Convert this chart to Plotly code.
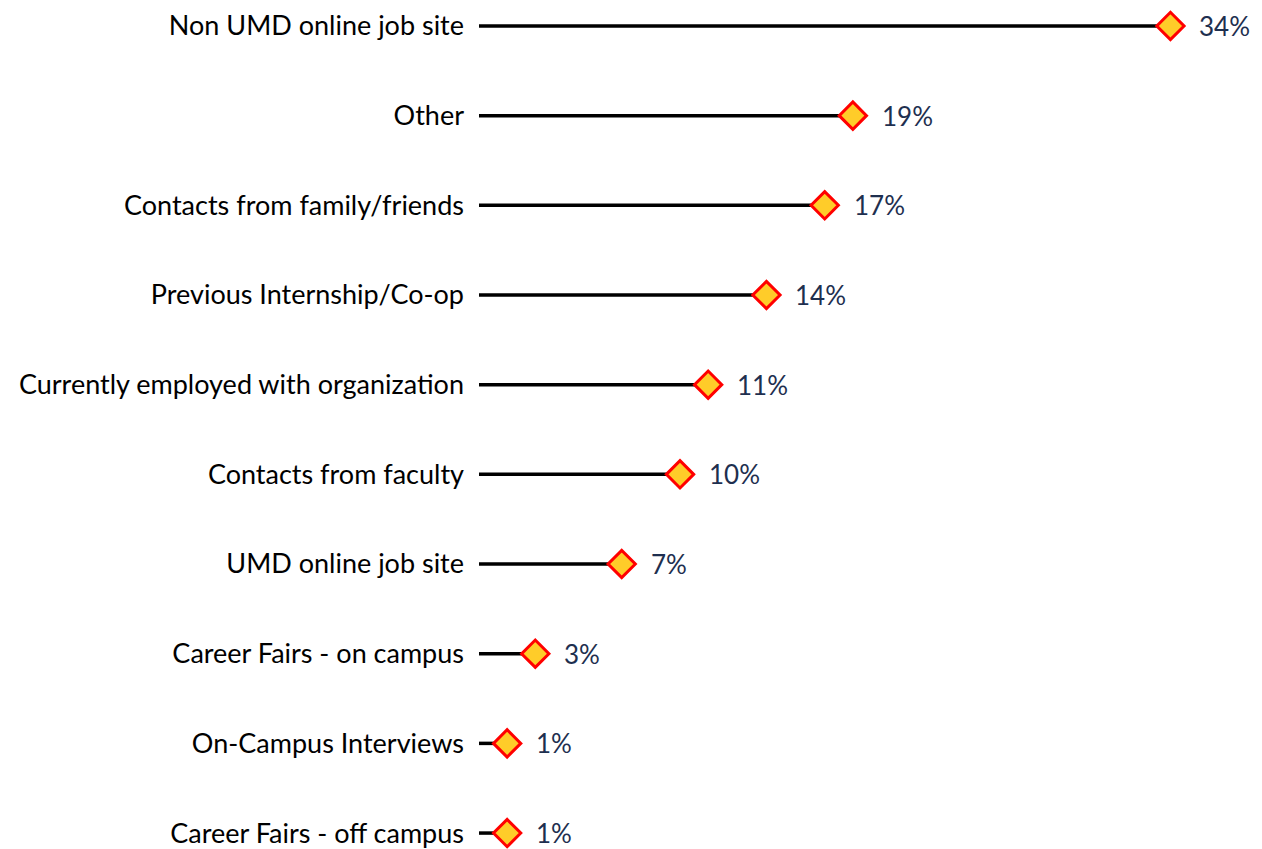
import plotly.graph_objects as go

categories = [
    "Career Fairs - off campus",
    "On-Campus Interviews",
    "Career Fairs - on campus",
    "UMD online job site",
    "Contacts from faculty",
    "Currently employed with organization",
    "Previous Internship/Co-op",
    "Contacts from family/friends",
    "Other",
    "Non UMD online job site",
]
values = [1.4, 1.4, 2.8, 7.1, 10.0, 11.4, 14.3, 17.2, 18.6, 34.4]
value_labels = ["1%", "1%", "3%", "7%", "10%", "11%", "14%", "17%", "19%", "34%"]

FONT = "Lato"
fig = go.Figure()

# stems
for c, v in zip(categories, values):
    fig.add_trace(go.Scatter(
        x=[0, v], y=[c, c], mode="lines",
        line=dict(color="black", width=3.5),
        hoverinfo="skip", showlegend=False,
    ))

fig.add_trace(go.Scatter(
    x=values, y=categories, mode="markers",
    marker=dict(symbol="diamond", size=21, color="#FFCC29",
                line=dict(color="#FF0000", width=3)),
    showlegend=False, cliponaxis=False,
))

for c, v, t in zip(categories, values, value_labels):
    fig.add_annotation(x=v, y=c, text=t, showarrow=False, xanchor="left",
                       xshift=27, font=dict(family=FONT, size=26, color="#1E2F4F"))

fig.update_layout(
    width=1254, height=841,
    margin=dict(l=471, r=0, t=0, b=0),
    paper_bgcolor="white", plot_bgcolor="white",
    xaxis=dict(range=[0, 783 / 20.1], visible=False, showgrid=False, zeroline=False),
    yaxis=dict(categoryorder="array", categoryarray=categories,
               range=[-0.1778, 9.1667], showgrid=False, zeroline=False,
               showline=False, ticks="", ticklabelstandoff=14,
               tickfont=dict(family=FONT, size=27, color="black")),
)

fig.write_html("out.html")
